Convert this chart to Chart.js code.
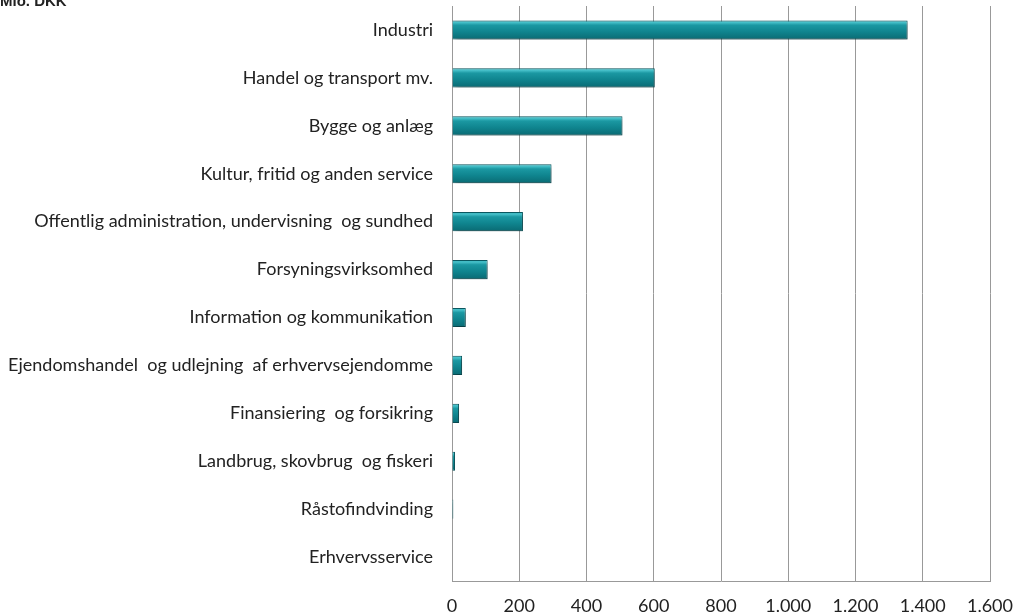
<!DOCTYPE html>
<html>
<head>
<meta charset="utf-8">
<script src="https://cdn.jsdelivr.net/npm/chart.js@4.4.1/dist/chart.umd.min.js"></script>
<style>
  html, body { margin: 0; padding: 0; background: #fff; }
  #wrap { width: 1020px; height: 614px; position: relative; }
</style>
</head>
<body>
<div id="wrap"><canvas id="chart"></canvas></div>
<script>
// Mio. DKK pr. branche
const categories = [
  "Industri",
  "Handel og transport mv.",
  "Bygge og anlæg",
  "Kultur, fritid og anden service",
  "Offentlig administration, undervisning  og sundhed",
  "Forsyningsvirksomhed",
  "Information og kommunikation",
  "Ejendomshandel  og udlejning  af erhvervsejendomme",
  "Finansiering  og forsikring",
  "Landbrug, skovbrug  og fiskeri",
  "Råstofindvinding",
  "Erhvervsservice"
];
const values = [1355, 603, 507, 296, 211, 106, 41, 30, 21, 9, 4, 0];
const xTicks = [0, 200, 400, 600, 800, 1000, 1200, 1400, 1600];
const unitLabel = "Mio. DKK";

const BAR_PCT = 0.4;
const FONT = "Lato, 'Open Sans', sans-serif";

// gradient på tværs af hver bjælke (cylinder-look)
function barFill(context) {
  const chart = context.chart;
  const yScale = chart.scales.y;
  if (!chart.chartArea || !yScale) return "#0f8791";
  const cy = yScale.getPixelForValue(context.dataIndex);
  const half = (chart.chartArea.height / categories.length) * BAR_PCT / 2;
  const g = chart.ctx.createLinearGradient(0, cy - half, 0, cy + half);
  g.addColorStop(0, "#2aa3ad");
  g.addColorStop(0.1, "#48c2cb");
  g.addColorStop(0.25, "#1b98a2");
  g.addColorStop(0.6, "#0f848e");
  g.addColorStop(1, "#0a6a73");
  return g;
}

const shadowPlugin = {
  id: "barShadow",
  beforeDatasetsDraw(chart) {
    const c = chart.ctx;
    c.save();
    c.shadowColor = "rgba(0,0,0,0.35)";
    c.shadowBlur = 5;
    c.shadowOffsetX = 2;
    c.shadowOffsetY = 3;
  },
  afterDatasetsDraw(chart) {
    chart.ctx.restore();
  }
};

const unitPlugin = {
  id: "unitLabel",
  afterDraw(chart) {
    const c = chart.ctx;
    c.save();
    c.font = "bold 15px 'Liberation Sans', Arial, sans-serif";
    c.fillStyle = "#222";
    c.textAlign = "left";
    c.textBaseline = "alphabetic";
    c.fillText(unitLabel, 0, 5.5);
    c.restore();
  }
};

new Chart(document.getElementById("chart"), {
  type: "bar",
  data: {
    labels: categories,
    datasets: [{
      data: values,
      backgroundColor: barFill,
      borderColor: "#0b5a62",
      borderWidth: 1,
      barPercentage: BAR_PCT,
      categoryPercentage: 1.0
    }]
  },
  options: {
    indexAxis: "y",
    responsive: true,
    maintainAspectRatio: false,
    animation: false,
    layout: { padding: { top: 6, right: 30, left: 0, bottom: 0 } },
    plugins: {
      legend: { display: false },
      tooltip: { enabled: false }
    },
    scales: {
      x: {
        min: 0,
        max: 1600,
        afterBuildTicks(axis) {
          axis.ticks = xTicks.map(v => ({ value: v }));
        },
        afterFit(axis) {
          axis.height = 33;
          axis.paddingLeft = 0;
          axis.paddingRight = 0;
        },
        ticks: {
          color: "#222",
          font: { family: FONT, size: 18, lineHeight: 1.0 },
          padding: 16,
          maxRotation: 0,
          callback: v => v.toLocaleString("da-DK")
        },
        grid: { color: "#999", lineWidth: 1, drawTicks: false },
        border: { color: "#999", width: 1 }
      },
      y: {
        afterFit(axis) {
          axis.width = 452;
          axis.paddingTop = 0;
          axis.paddingBottom = 0;
        },
        ticks: {
          color: "#222",
          font: { family: FONT, size: 18 },
          padding: 19,
          autoSkip: false
        },
        grid: { display: false, drawTicks: false },
        border: { color: "#999", width: 1 }
      }
    }
  },
  plugins: [shadowPlugin, unitPlugin]
});
</script>
</body>
</html>
